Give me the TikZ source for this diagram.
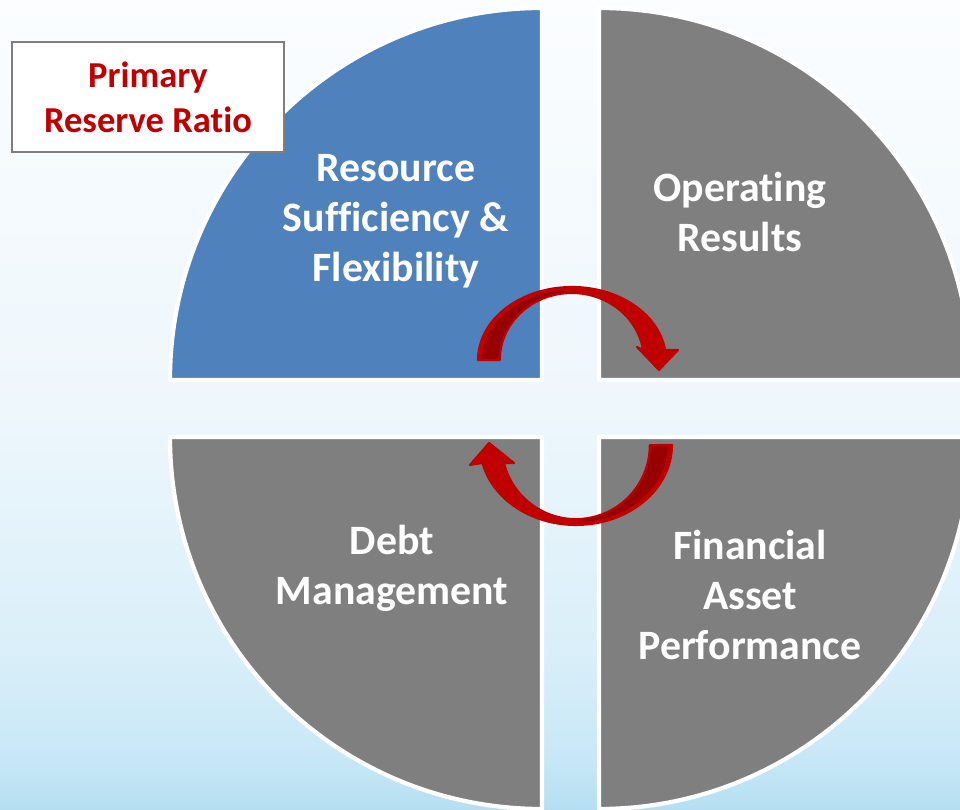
\documentclass[tikz,border=0pt]{standalone}
\usepackage{fontspec}
\setmainfont{Carlito}[Ligatures=NoCommon]
\usepackage{xcolor}
\usetikzlibrary{calc}
\definecolor{qblue}{RGB}{79,129,189}
\definecolor{qgray}{RGB}{127,127,127}
\definecolor{arred}{RGB}{192,0,0}
\definecolor{ardark}{RGB}{150,0,0}
\definecolor{boxline}{RGB}{127,127,127}
\definecolor{bgbot}{RGB}{181,223,241}
\definecolor{bglow}{RGB}{201,232,247}
\definecolor{bgmidl}{RGB}{218,239,249}
\definecolor{bgmid}{RGB}{238,247,252}
\definecolor{bgtop}{RGB}{251,253,255}
\pgfdeclareverticalshading{slidebg}{100bp}{color(0bp)=(bgbot); color(25bp)=(bgbot);
  color(28.5bp)=(bglow); color(35bp)=(bgmidl); color(50bp)=(bgmid);
  color(75bp)=(bgtop); color(100bp)=(bgtop)}
\tikzset{
  quad/.style  ={draw=white, line width=2.4pt, line join=round},
  lbl/.style   ={text=white, align=center,
                 font=\fontsize{23.8}{28.5}\selectfont\bfseries},
  ratio/.style ={rectangle, draw=boxline, line width=1.1pt, fill=white,
                 text=arred, align=center, minimum width=5.44cm,
                 minimum height=2.2cm,
                 font=\fontsize{20.8}{25.6}\selectfont\bfseries},
  arw/.style   ={fill=arred},
  arwline/.style={draw=arred, line width=1.2pt, line join=round},
  fold/.style  ={fill=ardark},
}

\begin{document}
\begin{tikzpicture}[x=0.02cm, y=0.02cm]
\useasboundingbox (0,0) rectangle (960,810);
\clip (0,0) rectangle (960,810);
% ---- slide background -----------------------------------------------
\shade[shading=slidebg] (0,0) rectangle (960,810);

% ---- the four quadrants ---------------------------------------------
\fill[qblue, quad] (542,430) -- (170,430) arc[start angle=180, end angle=90, radius=372] -- cycle;
\fill[qgray, quad] (599,430) -- (599,802) arc[start angle=90, end angle=0, radius=372] -- cycle;
\fill[qgray, quad] (542,373) -- (170,373) arc[start angle=180, end angle=270, radius=372] -- cycle;
\fill[qgray, quad] (599,373) -- (971,373) arc[start angle=0, end angle=-90, radius=372] -- cycle;

% ---- labels -----------------------------------------------------------
\node[lbl] (res)  at (396,589) {Resource\\Sufficiency \&\\Flexibility};
\node[lbl] (ops)  at (740,598) {Operating\\Results};
\node[lbl] (debt) at (392,242) {Debt\\Management};
\node[lbl] (fin)  at (750,215) {Financial\\Asset\\Performance};
\node[ratio] (prr) at (148,713) {Primary\\Reserve Ratio};

% ---- curved arrows (top: left to right, bottom: right to left) ------
\coordinate (topc) at (572,450);
\coordinate (botc) at (576,365);
\fill[arw] (478,450) arc[start angle=180, end angle=8, x radius=94, y radius=73]
  -- (678,460) -- (659,440) -- (637,463) -- (643,460)
  arc[start angle=8.6, end angle=180, x radius=72, y radius=67] -- cycle;
\fill[fold] (482,450) arc[start angle=180, end angle=95, x radius=90, y radius=70]
  -- ($(topc)+(-6,67)$) arc[start angle=95, end angle=180, x radius=73, y radius=67] -- cycle;
\draw[arwline] (478,450) arc[start angle=180, end angle=8, x radius=94, y radius=73]
  -- (678,460) -- (659,440) -- (637,463) -- (643,460)
  arc[start angle=8.6, end angle=180, x radius=72, y radius=67] -- cycle;

\fill[arw] (672,365) arc[start angle=0, end angle=-167, x radius=96, y radius=80]
  -- (470,345) -- (489,367) -- (514,347) -- (504,347)
  arc[start angle=-166, end angle=0, radius=74] -- cycle;
\fill[fold] (668,365) arc[start angle=0, end angle=-85, x radius=92, y radius=77]
  -- ($(botc)+(6,-74)$) arc[start angle=-85, end angle=0, x radius=75, y radius=74] -- cycle;
\draw[arwline] (672,365) arc[start angle=0, end angle=-167, x radius=96, y radius=80]
  -- (470,345) -- (489,367) -- (514,347) -- (504,347)
  arc[start angle=-166, end angle=0, radius=74] -- cycle;
\end{tikzpicture}
\end{document}
